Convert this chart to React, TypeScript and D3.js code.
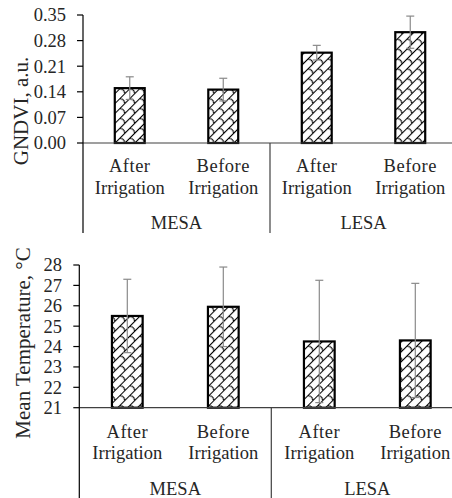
import React from "react";
import * as d3 from "d3";

const categories = ["After|Irrigation", "Before|Irrigation", "After|Irrigation", "Before|Irrigation"];
const groups = ["MESA", "LESA"];
const gndviValues = [0.150, 0.146, 0.247, 0.303];
const gndviErrors = [0.031, 0.031, 0.020, 0.044];
const gndviTicks = [0, 0.07, 0.14, 0.21, 0.28, 0.35];
const tempValues = [25.5, 25.95, 24.25, 24.3];
const tempErrors = [1.8, 1.95, 3.0, 2.8];
const tempTicks = [21, 22, 23, 24, 25, 26, 27, 28];

const FONT = "'Liberation Serif', 'Times New Roman', serif";
const TXT = "#262626";

type PanelProps = {
  id: string;
  values: number[];
  errors: number[];
  ticks: number[];
  domain: [number, number];
  yTop: number;
  yBase: number;
  x0: number;
  step: number;
  bottom: number;
  labelX: number;
  fmt: (v: number) => string;
  title: string;
  titleX: number;
  titleY: number;
  lab1: number;
  lab2: number;
  labG: number;
};

function Panel(p: PanelProps) {
  const n = categories.length;
  const x = d3
    .scaleBand<number>()
    .domain(d3.range(n))
    .range([p.x0, p.x0 + p.step * n])
    .paddingInner(0.68)
    .paddingOuter(0.34);
  const y = d3.scaleLinear().domain(p.domain).range([p.yBase, p.yTop]);
  const bw = x.bandwidth();
  const stepPx = x.step();
  const sep = p.x0 + stepPx * 2;
  return (
    <g>
      {/* bars */}
      {p.values.map((v, i) => (
        <rect
          key={"b" + i}
          x={x(i)!}
          y={y(v)}
          width={bw}
          height={p.yBase - y(v)}
          fill={`url(#${p.id})`}
          stroke="#000"
          strokeWidth={2.2}
        />
      ))}
      {/* error bars */}
      {p.values.map((v, i) => {
        const cx = x(i)! + bw / 2;
        const hi = y(v + p.errors[i]);
        const lo = y(v - p.errors[i]);
        return (
          <g key={"e" + i} stroke="#8a8a8a" strokeWidth={1.2}>
            <line x1={cx} x2={cx} y1={hi} y2={lo} />
            <line x1={cx - 4} x2={cx + 4} y1={hi} y2={hi} />
            <line x1={cx - 4} x2={cx + 4} y1={lo} y2={lo} />
          </g>
        );
      })}
      {/* axes */}
      <line x1={p.x0} x2={452} y1={p.yBase} y2={p.yBase} stroke="#404040" strokeWidth={1.2} />
      <line x1={p.x0} x2={p.x0} y1={p.yTop} y2={p.bottom} stroke="#000" strokeWidth={1.2} />
      <line x1={sep} x2={sep} y1={p.yBase} y2={p.bottom} stroke="#404040" strokeWidth={1.2} />
      {p.ticks.map((t) => (
        <g key={"t" + t}>
          <line x1={p.x0 - 6} x2={p.x0} y1={y(t)} y2={y(t)} stroke="#000" strokeWidth={1.2} />
          <text
            x={p.labelX}
            y={y(t)}
            dy="0.35em"
            textAnchor="end"
            fontFamily={FONT}
            fontSize={18.5}
            fill={TXT}
          >
            {p.fmt(t)}
          </text>
        </g>
      ))}
      {categories.map((c, i) => {
        const [a, b] = c.split("|");
        const cx = x(i)! + bw / 2;
        return (
          <g key={"c" + i} fontFamily={FONT} fontSize={18.5} fill={TXT} textAnchor="middle">
            <text x={cx} y={p.lab1} letterSpacing="0.5">{a}</text>
            <text x={cx} y={p.lab2}>{b}</text>
          </g>
        );
      })}
      {groups.map((g, gi) => (
        <text
          key={g}
          x={p.x0 + stepPx * (gi * 2 + 1)}
          y={p.labG}
          textAnchor="middle"
          fontFamily={FONT}
          fontSize={18.5}
          fill={TXT}
        >
          {g}
        </text>
      ))}
      <text
        transform={`translate(${p.titleX},${p.titleY}) rotate(-90)`}
        textAnchor="middle"
        dy="0.35em"
        fontFamily={FONT}
        fontSize={21}
        fill={TXT}
      >
        {p.title}
      </text>
    </g>
  );
}

function PatternDef({ id }: { id: string }) {
  return (
    <pattern
      id={id}
      patternUnits="userSpaceOnUse"
      width={14}
      height={14}
      patternTransform="rotate(-45)"
    >
      <rect width={14} height={14} fill="#fff" />
      <g stroke="#000" strokeWidth={1.1} fill="none">
        <line x1={0} x2={14} y1={0.5} y2={0.5} />
        <line x1={0} x2={14} y1={7.5} y2={7.5} />
        <path d="M1,0.5 Q4,4 1,7.5" />
        <path d="M8,7.5 Q11,11 8,14.5" />
      </g>
    </pattern>
  );
}

export default function App() {
  return (
    <svg width={452} height={498} style={{ position: "absolute", left: 0, top: 0, background: "#fff" }}>
      <defs>
        <PatternDef id="hatchA" />
        <PatternDef id="hatchB" />
      </defs>
      <rect width={452} height={498} fill="#fff" />
      <Panel
        id="hatchA"
        values={gndviValues}
        errors={gndviErrors}
        ticks={gndviTicks}
        domain={[0, 0.35]}
        yTop={15}
        yBase={143}
        x0={83}
        step={93.5}
        bottom={233}
        labelX={66}
        fmt={(v) => v.toFixed(2)}
        title="GNDVI, a.u."
        titleX={21}
        titleY={111}
        lab1={171.5}
        lab2={194}
        labG={229}
      />
      <Panel
        id="hatchB"
        values={tempValues}
        errors={tempErrors}
        ticks={tempTicks}
        domain={[21, 28]}
        yTop={265}
        yBase={407.7}
        x0={79.3}
        step={96}
        bottom={498}
        labelX={62}
        fmt={(v) => String(v)}
        title="Mean Temperature, °C"
        titleX={23}
        titleY={343}
        lab1={438}
        lab2={459}
        labG={495}
      />
    </svg>
  );
}
